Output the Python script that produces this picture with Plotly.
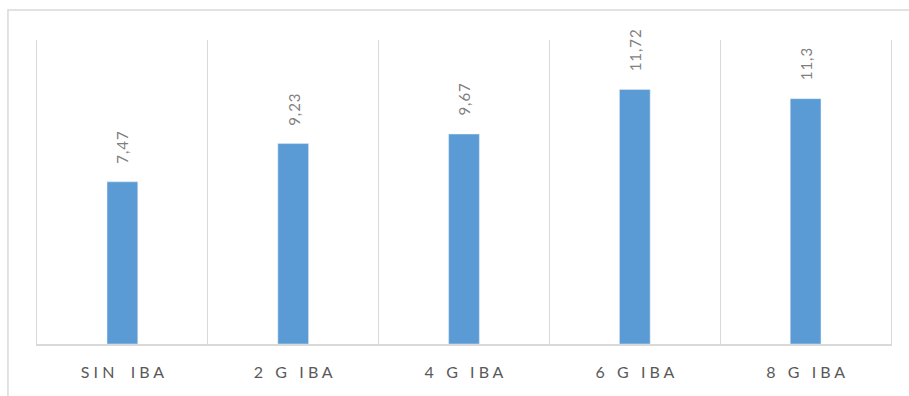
import plotly.graph_objects as go

categories = ["SIN IBA", "2 G IBA", "4 G IBA", "6 G IBA", "8 G IBA"]
values = [7.47, 9.23, 9.67, 11.72, 11.3]
value_labels = ["7,47", "9,23", "9,67", "11,72", "11,3"]

BAR = "#5B9BD5"
GRID = "#D9D9D9"
FONT = "Lato"

def spaced(s, sep="\u00a0", wordsep="\u00a0\u00a0"):
    return wordsep.join(sep.join(w) for w in s.split(" "))

tick_text = [spaced(c, wordsep=("\u00a0" * 4 if c.startswith("SIN") else "\u00a0" * 3)) for c in categories]
label_text = [spaced(t, sep="\u200a") for t in value_labels]

fig = go.Figure()
fig.add_trace(go.Bar(
    x=categories, y=values, marker_color=BAR, width=0.18,
    hoverinfo="skip",
))

for c, v, t in zip(categories, values, label_text):
    fig.add_annotation(
        x=c, y=v, text=t, textangle=-90, showarrow=False,
        xanchor="center", yanchor="bottom", yshift=16,
        font=dict(family=FONT, size=15, color="#7F7F7F"),
    )

# outer chart border
fig.add_shape(type="rect", xref="paper", yref="paper",
              x0=-0.034, x1=1.04, y0=-0.2, y1=1.099,
              line=dict(color=GRID, width=1.5), fillcolor="rgba(0,0,0,0)", layer="below")

fig.update_layout(
    width=909, height=396,
    margin=dict(l=37, r=18, t=40, b=52),
    paper_bgcolor="white", plot_bgcolor="white",
    showlegend=False,
    font=dict(family=FONT, color="#595959"),
)
fig.update_xaxes(
    type="category", tickmode="array", tickvals=categories, ticktext=tick_text,
    tickson="boundaries", showgrid=True, gridcolor=GRID, gridwidth=1,
    ticks="", showline=True, linecolor=GRID, linewidth=1.5,
    tickfont=dict(family=FONT, size=16, color="#595959"),
    ticklabelstandoff=13, range=[-0.5, 4.5],
)
fig.update_yaxes(
    range=[0, 14], showgrid=False, zeroline=False, showticklabels=False,
    ticks="", showline=True, mirror=True, linecolor=GRID, linewidth=1,
)

fig.write_html("out.html")
